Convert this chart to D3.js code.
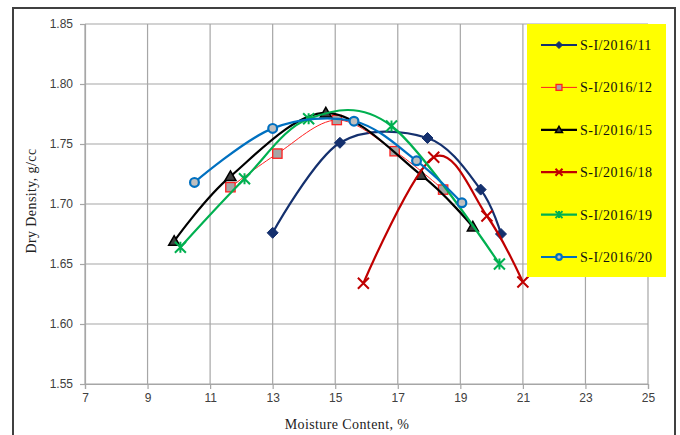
<!DOCTYPE html>
<html lang="en">
<head>
  <meta charset="UTF-8" />
  <title>Compaction curves</title>
  <script src="https://d3js.org/d3.v7.min.js"></script>
  <style>
    body { margin: 0; padding: 0; background: #fff; }
    .tick text { font-family: "Liberation Sans", Arial, sans-serif; font-size: 12px; fill: #404040; }
    .grid line { stroke: #a6a6a6; stroke-width: 1.2; }
    .legend-text { font-family: "Liberation Serif", "Times New Roman", serif; font-size: 14px; letter-spacing: 0.5px; fill: #111; }
    .axis-title { font-family: "Liberation Serif", "Times New Roman", serif; font-size: 14px; letter-spacing: 0.4px; fill: #222; }
  </style>
</head>
<body>
  <div id="chart"></div>
  <script>
    // moisture content (%), dry density (g/cc)
    const s11 = [[13.0, 1.676], [15.15, 1.751], [17.95, 1.755], [19.65, 1.712], [20.3, 1.675]];
    const s12 = [[11.65, 1.714], [13.15, 1.742], [15.05, 1.770], [16.9, 1.744], [18.45, 1.712]];
    const s15 = [[9.85, 1.669], [11.65, 1.723], [14.7, 1.776], [17.75, 1.724], [19.4, 1.681]];
    const s18 = [[15.9, 1.634], [18.15, 1.739], [19.85, 1.690], [21.0, 1.635]];
    const s19 = [[10.05, 1.664], [12.1, 1.721], [14.15, 1.771], [16.8, 1.765], [20.25, 1.650]];
    const s20 = [[10.5, 1.718], [13.0, 1.763], [15.6, 1.769], [17.6, 1.736], [19.05, 1.701]];

    const seriesNames = ['S-I/2016/11', 'S-I/2016/12', 'S-I/2016/15', 'S-I/2016/18', 'S-I/2016/19', 'S-I/2016/20'];
    const xTicks = [7, 9, 11, 13, 15, 17, 19, 21, 23, 25];
    const yTicks = [1.55, 1.60, 1.65, 1.70, 1.75, 1.80, 1.85];

    const series = [
      { name: seriesNames[0], data: s11, color: '#14306e', width: 2.2, marker: 'diamond', fill: '#14306e' },
      { name: seriesNames[1], data: s12, color: '#ff2020', width: 1, marker: 'square', fill: '#a6a6a6' },
      { name: seriesNames[2], data: s15, color: '#000000', width: 2.2, marker: 'triangle', fill: '#404040' },
      { name: seriesNames[3], data: s18, color: '#c00000', width: 2.2, marker: 'x', fill: 'none' },
      { name: seriesNames[4], data: s19, color: '#00b050', width: 2.2, marker: 'star', fill: 'none' },
      { name: seriesNames[5], data: s20, color: '#0070c0', width: 2.2, marker: 'circle', fill: '#bfbfbf' }
    ];

    const W = 680, H = 435;
    const plot = { left: 85, right: 648, top: 24, bottom: 384 };

    const svg = d3.select('#chart').append('svg')
      .attr('width', W).attr('height', H);

    // outer frame
    svg.append('rect')
      .attr('x', 13).attr('y', 8)
      .attr('width', 662).attr('height', 440)
      .attr('fill', 'none').attr('stroke', '#404040').attr('stroke-width', 2);

    const x = d3.scaleLinear().domain([7, 25]).range([plot.left, plot.right]);
    const y = d3.scaleLinear().domain([1.55, 1.85]).range([plot.bottom, plot.top]);

    // grid
    const grid = svg.append('g').attr('class', 'grid');
    grid.selectAll('.vg').data(xTicks).join('line')
      .attr('x1', d => x(d)).attr('x2', d => x(d))
      .attr('y1', plot.top).attr('y2', plot.bottom);
    grid.selectAll('.hg').data(yTicks).join('line')
      .attr('x1', plot.left).attr('x2', plot.right)
      .attr('y1', d => y(d)).attr('y2', d => y(d));

    const xAxis = svg.append('g')
      .attr('transform', `translate(0,${plot.bottom})`)
      .call(d3.axisBottom(x).tickValues(xTicks).tickSize(5).tickPadding(4).tickFormat(d3.format('d')));
    const yAxis = svg.append('g')
      .attr('transform', `translate(${plot.left},0)`)
      .call(d3.axisLeft(y).tickValues(yTicks).tickSize(5).tickPadding(7).tickFormat(d3.format('.2f')));
    [xAxis, yAxis].forEach(a => {
      a.select('.domain').attr('stroke', '#a6a6a6').attr('stroke-width', 1.2);
      a.selectAll('.tick line').attr('stroke', '#a6a6a6').attr('stroke-width', 1.2);
    });

    // axis titles
    svg.append('text').attr('class', 'axis-title')
      .attr('x', 347).attr('y', 429).attr('text-anchor', 'middle')
      .text('Moisture Content, %');
    svg.append('text').attr('class', 'axis-title')
      .attr('transform', 'translate(36,201) rotate(-90)')
      .attr('text-anchor', 'middle')
      .text('Dry Density, g/cc');

    function drawMarker(g, s, cx, cy, size) {
      const h = size / 2;
      if (s.marker === 'diamond') {
        g.append('path').attr('d', `M${cx},${cy - h}L${cx + h},${cy}L${cx},${cy + h}L${cx - h},${cy}Z`)
          .attr('fill', s.fill).attr('stroke', s.color).attr('stroke-width', 1);
      } else if (s.marker === 'square') {
        const q = h * 0.85;
        g.append('rect').attr('x', cx - q).attr('y', cy - q).attr('width', 2 * q).attr('height', 2 * q)
          .attr('fill', s.fill).attr('stroke', s.color).attr('stroke-width', 1.3);
      } else if (s.marker === 'triangle') {
        g.append('path').attr('d', `M${cx},${cy - h}L${cx + h},${cy + h * 0.75}L${cx - h},${cy + h * 0.75}Z`)
          .attr('fill', s.fill).attr('stroke', s.color).attr('stroke-width', 1.5);
      } else if (s.marker === 'x') {
        g.append('path').attr('d', `M${cx - h},${cy - h}L${cx + h},${cy + h}M${cx - h},${cy + h}L${cx + h},${cy - h}`)
          .attr('stroke', s.color).attr('stroke-width', 2);
      } else if (s.marker === 'star') {
        g.append('path').attr('d', `M${cx - h},${cy - h}L${cx + h},${cy + h}M${cx - h},${cy + h}L${cx + h},${cy - h}M${cx},${cy - h}L${cx},${cy + h}`)
          .attr('stroke', s.color).attr('stroke-width', 2);
      } else if (s.marker === 'circle') {
        g.append('circle').attr('cx', cx).attr('cy', cy).attr('r', h * 0.8)
          .attr('fill', s.fill).attr('stroke', s.color).attr('stroke-width', 2.2);
      }
    }

    const line = d3.line()
      .x(d => x(d[0]))
      .y(d => y(d[1]))
      .curve(d3.curveCatmullRom.alpha(0));

    series.forEach(s => {
      const g = svg.append('g');
      g.append('path').datum(s.data)
        .attr('d', line)
        .attr('fill', 'none')
        .attr('stroke', s.color)
        .attr('stroke-width', s.width);
      s.data.forEach(d => drawMarker(g, s, x(d[0]), y(d[1]), 11));
    });

    // legend
    const legend = svg.append('g');
    legend.append('rect')
      .attr('x', 527).attr('y', 24).attr('width', 139).attr('height', 253)
      .attr('fill', '#ffff00');
    series.forEach((s, i) => {
      const ly = 45 + i * 42.4;
      legend.append('line')
        .attr('x1', 541).attr('x2', 577).attr('y1', ly).attr('y2', ly)
        .attr('stroke', s.color).attr('stroke-width', s.width);
      drawMarker(legend, s, 559, ly, 7);
      legend.append('text').attr('class', 'legend-text')
        .attr('x', 580).attr('y', ly).attr('dy', '0.35em')
        .text(s.name);
    });
  </script>
</body>
</html>
